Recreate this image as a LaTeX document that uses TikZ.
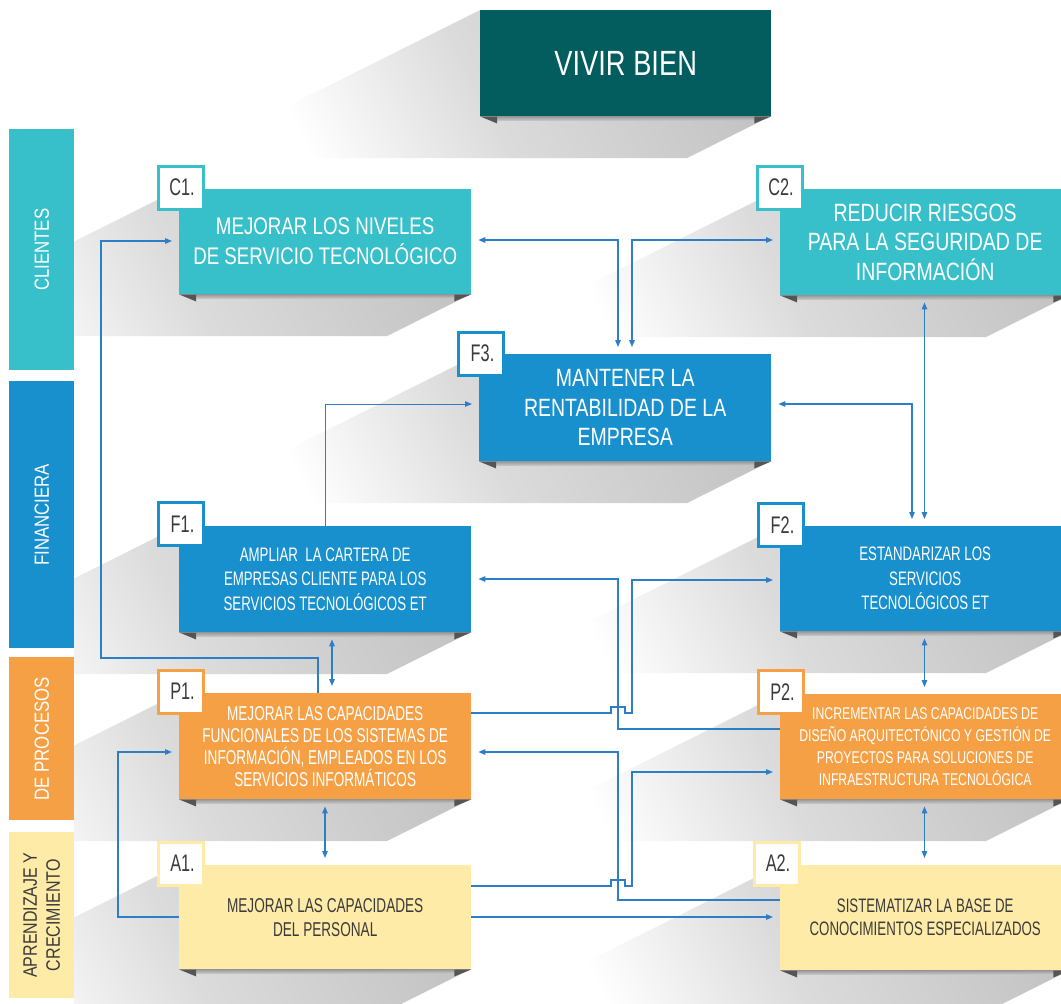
\documentclass[tikz,border=0pt]{standalone}
\usepackage{fontspec}
\setmainfont{Liberation Sans}
\newfontfamily\fw{Liberation Sans}[FakeStretch=0.78]
\newfontfamily\fn{Liberation Sans}[FakeStretch=0.68]
\newfontfamily\fp{Liberation Sans}[FakeStretch=0.72]
\newfontfamily\fb{Liberation Sans}[FakeStretch=0.82]
\usetikzlibrary{arrows.meta,calc}
\definecolor{cteal}{HTML}{38C0CA}
\definecolor{cblue}{HTML}{1890CD}
\definecolor{corange}{HTML}{F6A045}
\definecolor{cyellow}{HTML}{FEEBA8}
\definecolor{cdark}{HTML}{035D5F}
\definecolor{lineblue}{HTML}{2D7DC7}
\definecolor{foldgray}{HTML}{555555}
\definecolor{txtdark}{HTML}{3A3A3A}
\newcommand\mkshadow[4]{%
  \begin{scope}
    \clip (#1,#2) -- ({#1-2*(#4+42-#2)},{#4+42}) -- ({#3-84},{#4+42}) -- (#3,#4) -- cycle;
    \begin{scope}[transform canvas={shift={(#3,#4)}, rotate=26.565}]
      \shade[left color=white, right color=black!14] (-430,-700) rectangle (-250,700);
      \shade[left color=black!14, right color=black!24] (-250.5,-700) rectangle (0,700);
      \fill[black!24] (-0.5,-700) rectangle (600,700);
    \end{scope}
  \end{scope}}
\tikzset{
  box/.style={anchor=north west, inner sep=0pt, align=center, text=white},
  lab/.style={draw, line width=3pt, fill=white, minimum width=45pt, minimum height=43pt,
    inner sep=0pt, text=txtdark, font=\fn\fontsize{24}{24}\selectfont},
  bar/.style={anchor=north west, inner sep=0pt, minimum width=65pt},
  bartxt/.style={rotate=90, text=white, align=center, font=\fb\fontsize{20.5}{23}\selectfont},
  conn/.style={draw=lineblue, line width=1.2pt, -{Triangle[length=7pt,width=5.5pt]}, shorten >=7pt},
  dbl/.style={conn, {Triangle[length=7pt,width=5.5pt]}-{Triangle[length=7pt,width=5.5pt]}, shorten <=7pt},
  bigf/.style={font=\fw\fontsize{24}{30}\selectfont},
  bigg/.style={font=\fw\fontsize{25}{29.5}\selectfont},
  midf/.style={font=\fn\fontsize{19.5}{24.5}\selectfont},
}
\begin{document}
\begin{tikzpicture}[x=1pt,y=-1pt]
\useasboundingbox (0,0) rectangle (1061,1004);
\fill[white] (0,0) rectangle (1061,1004);
% shadows
\begin{scope}
\clip (74,0) rectangle (1061,1004);
\mkshadow{480}{10}{771}{116}
\mkshadow{179}{189}{471}{294}
\mkshadow{780}{189}{1070}{295}
\mkshadow{479}{354}{771}{461}
\mkshadow{179}{526}{471}{632}
\mkshadow{780}{526}{1070}{631}
\mkshadow{179}{693}{471}{799}
\mkshadow{780}{694}{1070}{799}
\mkshadow{179}{865}{471}{969}
\mkshadow{780}{865}{1070}{970}
\end{scope}
% side bars
\node[bar, fill=cteal, minimum height=241pt] (bc) at (9,129) {};
\node[bartxt] at (bc.center) {CLIENTES};
\node[bar, fill=cblue, minimum height=267pt] (bf) at (9,381) {};
\node[bartxt] at (bf.center) {FINANCIERA};
\node[bar, fill=corange, minimum height=163pt] (bp) at (9,657) {};
\node[bartxt] at (bp.center) {DE PROCESOS};
\node[bar, fill=cyellow, minimum height=166pt] (ba) at (9,832) {};
\node[bartxt, text=txtdark, font=\fb\fontsize{19.5}{23}\selectfont] at (ba.center) {APRENDIZAJE Y\\CRECIMIENTO};
% boxes
\node[box, fill=cdark, minimum width=291pt, minimum height=106pt, font=\fw\fontsize{35}{40}\selectfont] (vb) at (480,10) {VIVIR BIEN};
\node[box, fill=cteal, minimum width=292pt, minimum height=105pt, bigf] (c1) at (179,189) {MEJORAR LOS NIVELES\\DE SERVICIO TECNOLÓGICO};
\node[box, fill=cteal, minimum width=290pt, minimum height=106pt, bigg] (c2) at (780,189) {REDUCIR RIESGOS\\PARA LA SEGURIDAD DE\\INFORMACIÓN};
\node[box, fill=cblue, minimum width=292pt, minimum height=107pt, bigg] (f3) at (479,354) {MANTENER LA\\RENTABILIDAD DE LA\\EMPRESA};
\node[box, fill=cblue, minimum width=292pt, minimum height=106pt, midf] (f1) at (179,526) {AMPLIAR\ \ LA CARTERA DE\\EMPRESAS CLIENTE PARA LOS\\SERVICIOS TECNOLÓGICOS ET};
\node[box, fill=cblue, minimum width=290pt, minimum height=105pt, midf] (f2) at (780,526) {ESTANDARIZAR LOS\\SERVICIOS\\TECNOLÓGICOS ET};
\node[box, fill=corange, minimum width=292pt, minimum height=106pt, font=\fn\fontsize{20}{22}\selectfont] (p1) at (179,693) {MEJORAR LAS CAPACIDADES\\FUNCIONALES DE LOS SISTEMAS DE\\INFORMACIÓN, EMPLEADOS EN LOS\\SERVICIOS INFORMÁTICOS};
\node[box, fill=corange, minimum width=290pt, minimum height=105pt, font=\fp\fontsize{17}{22}\selectfont] (p2) at (780,694) {INCREMENTAR LAS CAPACIDADES DE\\DISEÑO ARQUITECTÓNICO Y GESTIÓN DE\\PROYECTOS PARA SOLUCIONES DE\\INFRAESTRUCTURA TECNOLÓGICA};
\node[box, fill=cyellow, minimum width=292pt, minimum height=104pt, text=txtdark, font=\fn\fontsize{20}{24}\selectfont] (a1) at (179,865) {MEJORAR LAS CAPACIDADES\\DEL PERSONAL};
\node[box, fill=cyellow, minimum width=290pt, minimum height=105pt, text=txtdark, font=\fn\fontsize{19.5}{23}\selectfont] (a2) at (780,865) {SISTEMATIZAR LA BASE DE\\CONOCIMIENTOS ESPECIALIZADOS};
% folds and under-strips
\foreach \n in {vb,c1,c2,f3,f1,f2,p1,p2,a1,a2}{
  \shade[top color=black!40, bottom color=black!22] ($(\n.south west)+(17,0)$) rectangle ($(\n.south east)+(-17,4)$);
  \fill[foldgray] (\n.south west) -- ++(17,0) -- ++(0,7) -- cycle;
  \fill[foldgray] (\n.south east) -- ++(-17,0) -- ++(0,7) -- cycle;
}
% labels
\node[lab, draw=cteal] (lc1) at ($(c1.north west)+(1.5,-1.5)$) {\hspace{3pt}C1.};
\node[lab, draw=cteal] (lc2) at ($(c2.north west)+(-0.5,-1.5)$) {\hspace{3pt}C2.};
\node[lab, draw=cblue] (lf3) at ($(f3.north west)+(2,-0.5)$) {\hspace{3pt}F3.};
\node[lab, draw=cblue] (lf1) at ($(f1.north west)+(2,-2)$) {\hspace{3pt}F1.};
\node[lab, draw=cblue] (lf2) at ($(f2.north west)+(1,-1)$) {\hspace{3pt}F2.};
\node[lab, draw=corange] (lp1) at ($(p1.north west)+(2,-1.5)$) {\hspace{3pt}P1.};
\node[lab, draw=corange] (lp2) at ($(p2.north west)+(1,-2)$) {\hspace{3pt}P2.};
\node[lab, draw=cyellow] (la1) at ($(a1.north west)+(2,-1.5)$) {\hspace{3pt}A1.};
\node[lab, draw=cyellow] (la2) at ($(a2.north west)+(-3.5,-1.5)$) {\hspace{3pt}A2.};
% channel coordinates
\coordinate (X101) at (101,0);
\coordinate (X118) at (118,0);
\coordinate (X318) at (318,0);
\coordinate (X325) at (325,0);
\coordinate (X332) at (332,0);
\coordinate (X611) at (611,0);
\coordinate (X618) at (618,0);
\coordinate (X632) at (632,0);
\coordinate (X912) at (912,0);
\coordinate (X924) at (924.5,0);
\coordinate (Y240) at (0,240);
\coordinate (Y241) at (0,241);
\coordinate (Y404) at (0,404);
\coordinate (Y579) at (0,579);
\coordinate (Y580) at (0,580);
\coordinate (Y658) at (0,658);
\coordinate (Y713) at (0,713);
\coordinate (Y729) at (0,729);
\coordinate (Y752) at (0,752);
\coordinate (Y772) at (0,772);
\coordinate (Y886) at (0,886);
\coordinate (Y900) at (0,900);
\coordinate (Y917) at (0,917);
% connectors
\draw[dbl] (f3.north -| X618) -- (X618 |- Y240) -- (c1.east |- Y240);
\draw[dbl] (f3.north -| X632) -- (X632 |- Y240) -- (c2.west |- Y240);
\draw[dbl] (c2.south -| X924) -- (f2.north -| X924);
\draw[dbl] (f3.east |- Y404) -- (X912 |- Y404) -- (f2.north -| X912);
\draw[conn, line width=0.9pt] (f1.north -| X325) -- (X325 |- Y404) -- (f3.west |- Y404);
\draw[conn] (p1.north -| X318) -- (X318 |- Y658) -- (X101 |- Y658) -- (X101 |- Y241) -- (c1.west |- Y241);
\draw[dbl] (f1.south -| X332) -- (p1.north -| X332);
\draw[conn] (p2.west |- Y729) -- (X618 |- Y729) -- (X618 |- Y579) -- (f1.east |- Y579);
\draw[conn] (p1.east |- Y713) -- (X611 |- Y713) -- ++(0,-6) -- ++(14,0) -- ++(0,6) -- (X632 |- Y713) -- (X632 |- Y580) -- (f2.west |- Y580);
\draw[dbl] (f2.south -| X924) -- (p2.north -| X924);
\draw[conn] (a2.west |- Y900) -- (X618 |- Y900) -- (X618 |- Y752) -- (p1.east |- Y752);
\draw[conn] (a1.west |- Y917) -- (X118 |- Y917) -- (X118 |- Y752) -- (p1.west |- Y752);
\draw[dbl] (p1.south -| X325) -- (a1.north -| X325);
\draw[conn] (a1.east |- Y886) -- (X611 |- Y886) -- ++(0,-6) -- ++(14,0) -- ++(0,6) -- (X632 |- Y886) -- (X632 |- Y772) -- (p2.west |- Y772);
\draw[conn] (a1.east |- Y917) -- (a2.west |- Y917);
\draw[dbl] (p2.south -| X924) -- (a2.north -| X924);
\end{tikzpicture}
\end{document}
